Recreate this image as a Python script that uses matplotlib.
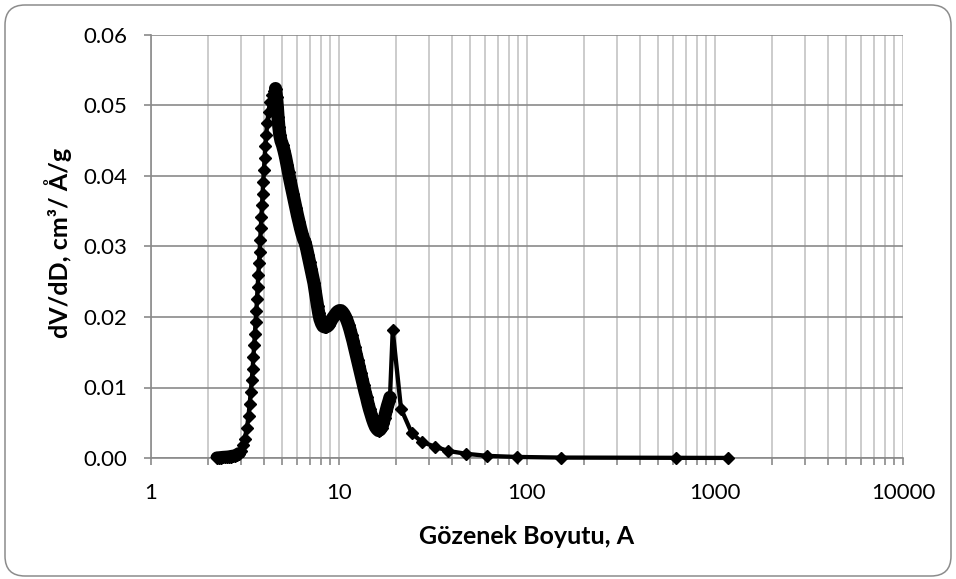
import matplotlib
matplotlib.use("Agg")
import matplotlib.pyplot as plt
from matplotlib.patches import FancyBboxPatch
from matplotlib.transforms import IdentityTransform
from matplotlib.ticker import LogLocator, FixedLocator, FuncFormatter, NullFormatter

# Pore size distribution: pore width (Å) and dV/dD (cm³/Å/g)
pore_size = [
    2.244, 2.30, 2.36, 2.42, 2.48, 2.54, 2.60, 2.66, 2.73, 2.80, 2.87, 2.93, 2.993,
    3.07, 3.144, 3.242, 3.302, 3.350, 3.391, 3.433, 3.471, 3.505, 3.539, 3.570,
    3.600, 3.636, 3.662, 3.694, 3.721, 3.753, 3.781, 3.809, 3.837, 3.865, 3.894,
    3.923, 3.952, 3.986, 4.020, 4.055, 4.100, 4.150, 4.217, 4.295, 4.402, 4.500,
    4.595,
    4.652, 4.698, 4.738, 4.785, 4.844, 4.915, 5.006, 5.099, 5.193, 5.290, 5.388,
    5.488, 5.589, 5.693, 5.798, 5.906, 6.015, 6.127, 6.240, 6.356, 6.474, 6.594,
    6.716, 6.840, 6.968, 7.097, 7.228, 7.362, 7.471, 7.582, 7.695, 7.807, 7.923,
    8.071, 8.220, 8.373, 8.528, 8.684, 8.846, 9.010, 9.180, 9.348, 9.522, 9.698,
    9.878, 10.062, 10.247, 10.437, 10.631, 10.829, 11.030, 11.234, 11.443, 11.655,
    11.872, 12.091, 12.316, 12.545, 12.778, 13.015, 13.256, 13.502, 13.753, 14.009,
    14.269, 14.533, 14.803, 15.078, 15.358, 15.642, 15.932, 16.228, 16.529, 16.836,
    17.14, 17.46, 17.78, 18.11, 18.45, 18.67,
    19.31, 21.37, 24.4, 27.5, 32.4, 38.1, 47.4, 61.5, 88.1, 151.7, 620.0, 1169.0,
]
dv_dd = [
    0.0, 0.00002, 0.00005, 0.00008, 0.0001, 0.00012, 0.00015, 0.0002, 0.00025,
    0.0003, 0.0004, 0.0006, 0.0010,
    0.0018, 0.0027, 0.0043, 0.0060, 0.0077, 0.0093, 0.0110, 0.0126, 0.0143, 0.0160,
    0.0176, 0.0193, 0.0209, 0.0226, 0.0243, 0.0259, 0.0276, 0.0292, 0.0309, 0.0326,
    0.0342, 0.0359, 0.0375, 0.0392, 0.0409, 0.0425, 0.0442, 0.0458, 0.0475, 0.0491,
    0.0505, 0.0515, 0.0521, 0.0524,
    0.0512, 0.0498, 0.0484, 0.0470, 0.0458, 0.0450, 0.0444, 0.0436, 0.0427, 0.0416,
    0.0405, 0.0394, 0.0384, 0.0374, 0.0364, 0.0354, 0.0344, 0.0335, 0.0326, 0.0318,
    0.0311, 0.0306, 0.0298, 0.0288, 0.0278, 0.0268, 0.0258, 0.0248, 0.0237, 0.0226,
    0.0215, 0.0205, 0.0197, 0.0191, 0.0187, 0.0186, 0.0186, 0.0187, 0.0189, 0.0193,
    0.0197, 0.0200, 0.0203, 0.0206, 0.0208, 0.0209, 0.0209, 0.0207, 0.0204, 0.0200,
    0.0195, 0.0189, 0.0182, 0.0174, 0.0166, 0.0157, 0.0148, 0.0139, 0.0130, 0.0121,
    0.0112, 0.0103, 0.0094, 0.0086, 0.0077, 0.0069, 0.0062, 0.0055, 0.0049, 0.0044,
    0.0041, 0.0039, 0.0040, 0.0043, 0.0049, 0.0057, 0.0066, 0.0074, 0.0081, 0.0086,
    0.0181, 0.0070, 0.0035, 0.0023, 0.0016, 0.0010, 0.0006, 0.0003, 0.00015,
    0.00006, 0.00002, 0.00001,
]

y_ticks = [0.00, 0.01, 0.02, 0.03, 0.04, 0.05, 0.06]
x_ticks = [1, 10, 100, 1000, 10000]
x_label = "Gözenek Boyutu, A"
y_label = "dV/dD, cm³/ Å/g"

plt.rcParams["font.family"] = ["Lato", "DejaVu Sans"]

W, H = 956, 579
fig = plt.figure(figsize=(W / 100, H / 100), dpi=100)
ax = fig.add_axes([151 / W, 1 - 458 / H, (903 - 151) / W, (458 - 35) / H])

# rounded chart-area border
frame = FancyBboxPatch((5, 3), 946, 571,
                       boxstyle="round,pad=0,rounding_size=20",
                       transform=IdentityTransform(), facecolor="white",
                       edgecolor="#8c8c8c", linewidth=1.1, zorder=-10)
fig.patches.append(frame)

ax.plot(pore_size, dv_dd, color="black", linewidth=3.1, marker="D",
        markersize=6.2, markerfacecolor="black", markeredgecolor="black",
        markeredgewidth=1.0, zorder=5, clip_on=False)

# densely sampled stretches, where the diamonds merge into a solid band
i_peak = dv_dd.index(max(dv_dd))
i_spike = next(i for i, v in enumerate(pore_size) if v > 19)
i_rise = next(i for i, v in enumerate(dv_dd) if v >= 0.001)
for lo, hi in ((0, i_rise), (i_peak, i_spike)):
    ax.plot(pore_size[lo:hi], dv_dd[lo:hi], color="black", linewidth=9.5,
            solid_joinstyle="round", solid_capstyle="round", zorder=4)

ax.set_xscale("log")
ax.set_xlim(x_ticks[0], x_ticks[-1])
ax.set_ylim(y_ticks[0], y_ticks[-1])

ax.xaxis.set_major_locator(FixedLocator(x_ticks))
ax.xaxis.set_major_formatter(FuncFormatter(lambda v, p: f"{v:g}"))
ax.xaxis.set_minor_locator(LogLocator(base=10, subs=range(2, 10), numticks=50))
ax.xaxis.set_minor_formatter(NullFormatter())
ax.yaxis.set_major_locator(FixedLocator(y_ticks))
ax.yaxis.set_major_formatter(FuncFormatter(lambda v, p: f"{v:.2f}"))

ax.grid(True, axis="y", which="major", color="#8a8a8a", linewidth=1.2)
ax.grid(True, axis="x", which="both", color="#c4c4c4", linewidth=1.2)
ax.set_axisbelow(True)

for side in ("top", "right"):
    ax.spines[side].set_visible(False)
for side in ("left", "bottom"):
    ax.spines[side].set_color("#8a8a8a")
    ax.spines[side].set_linewidth(1.2)

ax.tick_params(axis="both", which="both", direction="out", color="#8a8a8a",
               width=1.2, length=5, labelsize=16, labelcolor="black")
ax.tick_params(axis="y", pad=12)
ax.tick_params(axis="x", which="both", pad=13)

# axis titles placed at fixed pixel centres
fig.text(527 / W, 1 - 536 / H, x_label, fontsize=18, fontweight="bold",
         ha="center", va="center")
fig.text(58 / W, 1 - 243 / H, y_label, fontsize=18, fontweight="bold",
         ha="center", va="center", rotation=90)

fig.savefig("out.png", dpi=100)
